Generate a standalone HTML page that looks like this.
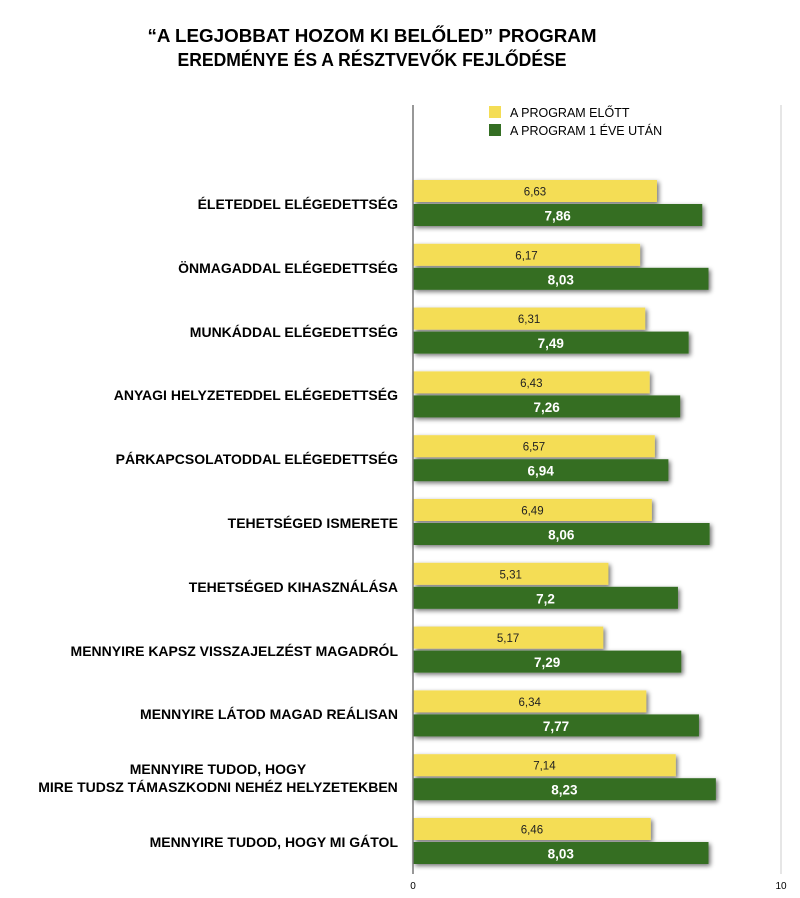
<!DOCTYPE html>
<html><head><meta charset="utf-8"><style>
html,body{margin:0;padding:0;background:#fff;}
svg{display:block;font-family:"Liberation Sans",Arial,sans-serif;}
</style></head><body>
<svg width="800" height="898" viewBox="0 0 800 898" xmlns="http://www.w3.org/2000/svg">
<defs>
<filter id="sh" x="-5%" y="-30%" width="115%" height="180%">
<feGaussianBlur in="SourceAlpha" stdDeviation="2.5"/>
<feOffset dx="2" dy="2" result="b"/>
<feComponentTransfer><feFuncA type="linear" slope="0.55"/></feComponentTransfer>
<feMerge><feMergeNode/><feMergeNode in="SourceGraphic"/></feMerge>
</filter>
</defs>
<text x="372" y="42" font-size="18" font-weight="bold" text-anchor="middle" textLength="449" lengthAdjust="spacingAndGlyphs">“A LEGJOBBAT HOZOM KI BELŐLED” PROGRAM</text>
<text x="372" y="66" font-size="18" font-weight="bold" text-anchor="middle" textLength="389" lengthAdjust="spacingAndGlyphs">EREDMÉNYE ÉS A RÉSZTVEVŐK FEJLŐDÉSE</text>
<line x1="781" y1="105" x2="781" y2="874" stroke="#ccc" stroke-width="1"/>
<rect x="489" y="106" width="12" height="12" fill="#f4dd55"/>
<rect x="489" y="124" width="12" height="12" fill="#346e23"/>
<text x="510" y="117" font-size="12.5">A PROGRAM ELŐTT</text>
<text x="510" y="135" font-size="12.5">A PROGRAM 1 ÉVE UTÁN</text>
<g filter="url(#sh)">
<rect x="413" y="180" width="243.98" height="22" fill="#f4dd55"/>
<rect x="413" y="204" width="289.25" height="22" fill="#346e23"/>
<rect x="413" y="243.8" width="227.06" height="22" fill="#f4dd55"/>
<rect x="413" y="267.8" width="295.5" height="22" fill="#346e23"/>
<rect x="413" y="307.6" width="232.21" height="22" fill="#f4dd55"/>
<rect x="413" y="331.6" width="275.63" height="22" fill="#346e23"/>
<rect x="413" y="371.4" width="236.62" height="22" fill="#f4dd55"/>
<rect x="413" y="395.4" width="267.17" height="22" fill="#346e23"/>
<rect x="413" y="435.2" width="241.78" height="22" fill="#f4dd55"/>
<rect x="413" y="459.2" width="255.39" height="22" fill="#346e23"/>
<rect x="413" y="499" width="238.83" height="22" fill="#f4dd55"/>
<rect x="413" y="523" width="296.61" height="22" fill="#346e23"/>
<rect x="413" y="562.8" width="195.41" height="22" fill="#f4dd55"/>
<rect x="413" y="586.8" width="264.96" height="22" fill="#346e23"/>
<rect x="413" y="626.6" width="190.26" height="22" fill="#f4dd55"/>
<rect x="413" y="650.6" width="268.27" height="22" fill="#346e23"/>
<rect x="413" y="690.4" width="233.31" height="22" fill="#f4dd55"/>
<rect x="413" y="714.4" width="285.94" height="22" fill="#346e23"/>
<rect x="413" y="754.2" width="262.75" height="22" fill="#f4dd55"/>
<rect x="413" y="778.2" width="302.86" height="22" fill="#346e23"/>
<rect x="413" y="818" width="237.73" height="22" fill="#f4dd55"/>
<rect x="413" y="842" width="295.5" height="22" fill="#346e23"/>
</g>
<g font-size="11.5" fill="#222" text-anchor="middle">
<text x="535" y="195.5">6,63</text>
<text x="526.5" y="259.3">6,17</text>
<text x="529.1" y="323.1">6,31</text>
<text x="531.3" y="386.9">6,43</text>
<text x="533.9" y="450.7">6,57</text>
<text x="532.4" y="514.5">6,49</text>
<text x="510.7" y="578.3">5,31</text>
<text x="508.1" y="642.1">5,17</text>
<text x="529.7" y="705.9">6,34</text>
<text x="544.4" y="769.7">7,14</text>
<text x="531.9" y="833.5">6,46</text>
</g>
<g font-size="13.5" font-weight="bold" fill="#fff" text-anchor="middle">
<text x="557.6" y="220.5">7,86</text>
<text x="560.8" y="284.3">8,03</text>
<text x="550.8" y="348.1">7,49</text>
<text x="546.6" y="411.9">7,26</text>
<text x="540.7" y="475.7">6,94</text>
<text x="561.3" y="539.5">8,06</text>
<text x="545.5" y="603.3">7,2</text>
<text x="547.1" y="667.1">7,29</text>
<text x="556" y="730.9">7,77</text>
<text x="564.4" y="794.7">8,23</text>
<text x="560.8" y="858.5">8,03</text>
</g>
<line x1="413" y1="105" x2="413" y2="874" stroke="#777" stroke-width="1.5"/>
<text x="413" y="889" font-size="10" text-anchor="middle">0</text>
<text x="781" y="889" font-size="10" text-anchor="middle">10</text>
<g font-size="14" font-weight="bold" text-anchor="end">
<text x="398" y="209">ÉLETEDDEL ELÉGEDETTSÉG</text>
<text x="398" y="273">ÖNMAGADDAL ELÉGEDETTSÉG</text>
<text x="398" y="337">MUNKÁDDAL ELÉGEDETTSÉG</text>
<text x="398" y="400">ANYAGI HELYZETEDDEL ELÉGEDETTSÉG</text>
<text x="398" y="464">PÁRKAPCSOLATODDAL ELÉGEDETTSÉG</text>
<text x="398" y="528">TEHETSÉGED ISMERETE</text>
<text x="398" y="592">TEHETSÉGED KIHASZNÁLÁSA</text>
<text x="398" y="656">MENNYIRE KAPSZ VISSZAJELZÉST MAGADRÓL</text>
<text x="398" y="719">MENNYIRE LÁTOD MAGAD REÁLISAN</text>
<text x="398" y="847">MENNYIRE TUDOD, HOGY MI GÁTOL</text>
</g>
<g font-size="14" font-weight="bold" text-anchor="middle">
<text x="218" y="774">MENNYIRE TUDOD, HOGY</text>
<text x="218" y="792">MIRE TUDSZ TÁMASZKODNI NEHÉZ HELYZETEKBEN</text>
</g>
</svg>
</body></html>
